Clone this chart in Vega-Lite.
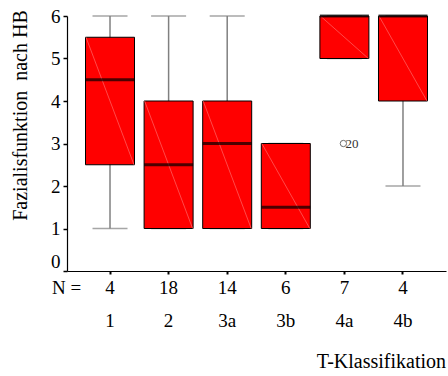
{
  "$schema": "https://vega.github.io/schema/vega-lite/v6.json",
  "width": 379,
  "height": 255,
  "autosize": {"type": "none"},
  "padding": {"left": 67, "top": 16, "right": 2, "bottom": 105},
  "background": "white",
  "config": {
    "view": {"stroke": null}
  },
  "title": {
    "text": "T-Klassifikation",
    "orient": "bottom",
    "anchor": "end",
    "frame": "group",
    "font": "Liberation Serif",
    "fontSize": 20,
    "fontWeight": "normal",
    "color": "black",
    "offset": 22
  },
  "datasets": {
    "boxes": [
      {"key": "4|1", "n": 4, "t": "1", "min": 1, "q1": 2.5, "med": 4.5, "q3": 5.5, "max": 6},
      {"key": "18|2", "n": 18, "t": "2", "min": 1, "q1": 1, "med": 2.5, "q3": 4, "max": 6},
      {"key": "14|3a", "n": 14, "t": "3a", "min": 1, "q1": 1, "med": 3, "q3": 4, "max": 6},
      {"key": "6|3b", "n": 6, "t": "3b", "min": 1, "q1": 1, "med": 1.5, "q3": 3, "max": 3},
      {"key": "7|4a", "n": 7, "t": "4a", "min": 5, "q1": 5, "med": 6, "q3": 6, "max": 6},
      {"key": "4|4b", "n": 4, "t": "4b", "min": 2, "q1": 4, "med": 6, "q3": 6, "max": 6}
    ],
    "outliers": [
      {"key": "7|4a", "value": 3, "case": "20"}
    ]
  },
  "layer": [
    {
      "data": {"name": "boxes"},
      "mark": {"type": "rule", "color": "#808080", "strokeWidth": 1.5},
      "encoding": {
        "x": {
          "field": "key",
          "type": "nominal",
          "sort": ["4|1", "18|2", "14|3a", "6|3b", "7|4a", "4|4b"],
          "scale": {"paddingInner": 0, "paddingOuter": 0.234},
          "axis": {
            "title": "N =",
            "domain": true,
            "domainColor": "#000000",
            "domainWidth": 1.2,
            "ticks": true,
            "tickColor": "#000000",
            "grid": false,
            "labelFont": "Liberation Serif",
            "labelFontSize": 19,
            "labelColor": "#000000",
            "titleFont": "Liberation Serif",
            "titleFontSize": 19,
            "titleFontWeight": "normal",
            "titleColor": "#000000",
            "labelExpr": "split(datum.label, '|')",
            "labelAngle": 0,
            "labelLineHeight": 33,
            "labelBaseline": "top",
            "labelPadding": 4,
            "tickSize": 3,
            "tickWidth": 2,
            "titleX": -1,
            "titleY": 16,
            "titleAlign": "center",
            "titleBaseline": "middle"
          }
        },
        "y": {
          "field": "min",
          "type": "quantitative",
          "scale": {"domain": [0, 6], "nice": false},
          "axis": {
            "title": "Fazialisfunktion \u00a0nach HB",
            "domain": true,
            "domainColor": "#000000",
            "domainWidth": 1.2,
            "ticks": true,
            "tickColor": "#000000",
            "grid": false,
            "labelFont": "Liberation Serif",
            "labelFontSize": 19,
            "labelColor": "#000000",
            "titleFont": "Liberation Serif",
            "titleFontSize": 20,
            "titleFontWeight": "normal",
            "titleColor": "#000000",
            "values": [0, 1, 2, 3, 4, 5, 6],
            "tickSize": 4,
            "tickWidth": 1.5,
            "labelPadding": 3,
            "labelBaseline": {"condition": {"test": "datum.value == 0", "value": "bottom"}, "value": "middle"},
            "titleX": -47,
            "titleY": 99,
            "titleAngle": -90,
            "titleAlign": "center",
            "titleBaseline": "middle"
          }
        },
        "y2": {"field": "max"}
      }
    },
    {
      "data": {"name": "boxes"},
      "mark": {"type": "tick", "color": "#808080", "thickness": 1.5, "size": 35},
      "encoding": {
        "x": {"field": "key", "type": "nominal", "sort": ["4|1", "18|2", "14|3a", "6|3b", "7|4a", "4|4b"]},
        "y": {"field": "min", "type": "quantitative"}
      }
    },
    {
      "data": {"name": "boxes"},
      "mark": {"type": "tick", "color": "#808080", "thickness": 1.5, "size": 35},
      "encoding": {
        "x": {"field": "key", "type": "nominal", "sort": ["4|1", "18|2", "14|3a", "6|3b", "7|4a", "4|4b"]},
        "y": {"field": "max", "type": "quantitative"}
      }
    },
    {
      "data": {"name": "boxes"},
      "mark": {"type": "bar", "size": 49, "fill": "#ff0000", "stroke": "black", "strokeWidth": 1},
      "encoding": {
        "x": {"field": "key", "type": "nominal", "sort": ["4|1", "18|2", "14|3a", "6|3b", "7|4a", "4|4b"]},
        "y": {"field": "q1", "type": "quantitative"},
        "y2": {"field": "q3"}
      }
    },
    {
      "data": {"name": "boxes"},
      "mark": {"type": "rule", "color": "#ff7a7a", "strokeWidth": 0.6, "xOffset": -24, "x2Offset": 24},
      "encoding": {
        "x": {"field": "key", "type": "nominal", "bandPosition": 0.5, "sort": ["4|1", "18|2", "14|3a", "6|3b", "7|4a", "4|4b"]},
        "x2": {"field": "key", "bandPosition": 0.5},
        "y": {"field": "q3", "type": "quantitative"},
        "y2": {"field": "q1"}
      }
    },
    {
      "data": {"name": "boxes"},
      "mark": {"type": "tick", "color": "black", "thickness": 3, "size": 49},
      "encoding": {
        "x": {"field": "key", "type": "nominal", "sort": ["4|1", "18|2", "14|3a", "6|3b", "7|4a", "4|4b"]},
        "y": {"field": "med", "type": "quantitative"}
      }
    },
    {
      "data": {"name": "outliers"},
      "mark": {"type": "point", "shape": "circle", "filled": false, "color": "#333333", "strokeWidth": 1, "size": 40, "xOffset": -1},
      "encoding": {
        "x": {"field": "key", "type": "nominal", "sort": ["4|1", "18|2", "14|3a", "6|3b", "7|4a", "4|4b"]},
        "y": {"field": "value", "type": "quantitative"}
      }
    },
    {
      "data": {"name": "outliers"},
      "mark": {"type": "text", "align": "left", "baseline": "middle", "dx": 1, "fontSize": 13, "font": "Liberation Serif", "color": "#333333"},
      "encoding": {
        "x": {"field": "key", "type": "nominal", "sort": ["4|1", "18|2", "14|3a", "6|3b", "7|4a", "4|4b"]},
        "y": {"field": "value", "type": "quantitative"},
        "text": {"field": "case"}
      }
    }
  ]
}
